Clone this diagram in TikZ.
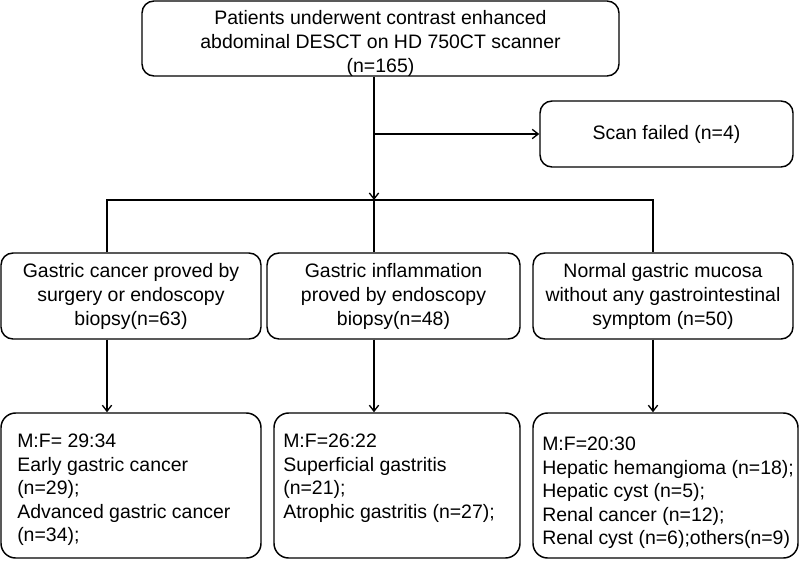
\documentclass[tikz,border=0pt]{standalone}
\usepackage{fontspec}
\setmainfont{Liberation Sans}
\usepackage{tikz}
\usetikzlibrary{arrows.meta}

\begin{document}
\begin{tikzpicture}[x=0.75pt,y=0.75pt,yscale=-1,xscale=1,
  box/.style={draw, line width=1.1pt, rounded corners=9pt, inner sep=0pt, align=center, font=\fontsize{14.6}{18}\selectfont},
  txt/.style={anchor=north west, inner sep=0pt, align=left, font=\fontsize{14.6}{17.6}\selectfont},
  link/.style={line width=1pt},
  >={Straight Barb[length=4.5pt,width=7pt]}]
%set diagram left start at 0, and has height of 564
\useasboundingbox (0,0) rectangle (800,564);

%Shape: Rounded Rect
\draw (380.5,38.5) node (top) [box, minimum width=357.75pt, minimum height=56.25pt] {};
% Text Node
\draw (380.5,43) node (ttop) [box, draw=none] {Patients underwent contrast enhanced\\abdominal DESCT on HD 750CT scanner\\(n=165)};
%Shape: Rounded Rect
\draw (666.5,134) node (scan) [box, minimum width=189.75pt, minimum height=49.5pt] {Scan failed (n=4)};

%Shape: Rounded Rect
\draw (131,296) node (gc) [box, minimum width=195pt, minimum height=64.5pt] {Gastric cancer proved by\\surgery or endoscopy\\biopsy(n=63)};
%Shape: Rounded Rect
\draw (393.5,296) node (gi) [box, minimum width=189.75pt, minimum height=64.5pt] {Gastric inflammation\\proved by endoscopy\\biopsy(n=48)};
%Shape: Rounded Rect
\draw (663,296) node (nm) [box, minimum width=195pt, minimum height=64.5pt] {Normal gastric mucosa\\without any gastrointestinal\\symptom (n=50)};

%Shape: Rounded Rect
\draw (131,485.5) node (res1) [box, rounded corners=11pt, minimum width=195pt, minimum height=108.75pt] {};
%Shape: Rounded Rect
\draw (397,485.5) node (res2) [box, rounded corners=11pt, minimum width=184.5pt, minimum height=108.75pt] {};
%Shape: Rounded Rect
\draw (665.5,485.5) node (res3) [box, rounded corners=11pt, minimum width=198.75pt, minimum height=108.75pt] {};

% Text Node
\draw (17,434) node (t1) [txt] {M:F= 29:34\\Early gastric cancer\\(n=29);\\Advanced gastric cancer\\(n=34);};
% Text Node
\draw (283,434) node (t2) [txt] {M:F=26:22\\Superficial gastritis\\(n=21);\\Atrophic gastritis (n=27);};
% Text Node
\draw (542,437) node (t3) [txt] {M:F=20:30\\Hepatic hemangioma (n=18);\\Hepatic cyst (n=5);\\Renal cancer (n=12);\\Renal cyst (n=6);others(n=9)};

\coordinate (split) at (374,200);
\coordinate (bl) at (107,200);
\coordinate (br) at (653,200);

%Straight Lines
\draw [link,->] (top.south -| split) -- (split);
%Straight Lines
\draw [link,->] (scan.west -| split) -- (scan.west);
%Straight Lines
\draw [link] (bl |- gc.north) -- (bl) -- (br) -- (br |- nm.north);
%Straight Lines
\draw [link] (split) -- (split |- gi.north);

%Straight Lines
\draw [link,->] (bl |- gc.south) -- (bl |- res1.north);
%Straight Lines
\draw [link,->] (split |- gi.south) -- (split |- res2.north);
%Straight Lines
\draw [link,->] (br |- nm.south) -- (br |- res3.north);

\end{tikzpicture}
\end{document}
